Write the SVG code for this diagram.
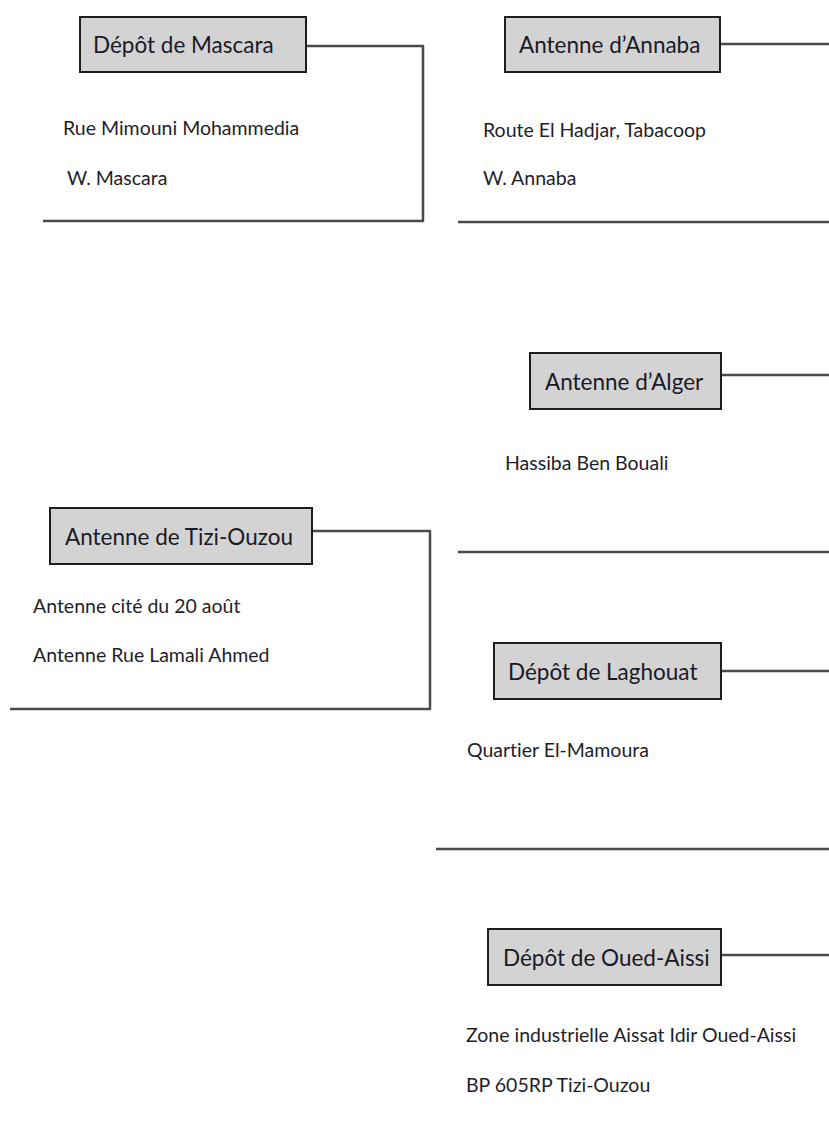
<svg xmlns="http://www.w3.org/2000/svg" width="829" height="1127" viewBox="0 0 829 1127">
  <style>
    .box { fill: #d3d3d3; stroke: #1e1e1e; stroke-width: 2; }
    text { font-family: Lato, "Open Sans", sans-serif; font-variant-ligatures: none; }
    .title { font-size: 22.5px; fill: #1a1a26; }
    .addr { font-size: 19.5px; fill: #1e1e2a; }
    .link { fill: none; stroke: #4a4a4a; stroke-width: 2.5; stroke-linejoin: round; }
  </style>
  <rect width="829" height="1127" fill="#ffffff"/>

  <g id="connectors">
    <polyline class="link" points="306,46 423,46 423,221 43,221"/>
    <polyline class="link" points="720,44 829,44"/>
    <polyline class="link" points="458,222 829,222"/>
    <polyline class="link" points="721,375 829,375"/>
    <polyline class="link" points="458,552 829,552"/>
    <polyline class="link" points="312,531 430,531 430,709 10,709"/>
    <polyline class="link" points="721,671 829,671"/>
    <polyline class="link" points="436,849 829,849"/>
    <polyline class="link" points="721,955 829,955"/>
  </g>

  <g id="depot-mascara">
    <rect class="box" x="80" y="17" width="226" height="55"/>
    <text class="title" x="93" y="53">Dépôt de Mascara</text>
    <text class="addr" x="63" y="135">Rue Mimouni Mohammedia</text>
    <text class="addr" x="67" y="185">W. Mascara</text>
  </g>

  <g id="antenne-annaba">
    <rect class="box" x="505" y="17" width="215" height="55"/>
    <text class="title" x="519" y="53">Antenne d’Annaba</text>
    <text class="addr" x="483" y="137">Route El Hadjar, Tabacoop</text>
    <text class="addr" x="483" y="185">W. Annaba</text>
  </g>

  <g id="antenne-alger">
    <rect class="box" x="530" y="353" width="191" height="56"/>
    <text class="title" x="545" y="390">Antenne d’Alger</text>
    <text class="addr" x="505" y="470">Hassiba Ben Bouali</text>
  </g>

  <g id="antenne-tizi-ouzou">
    <rect class="box" x="50" y="508" width="262" height="56"/>
    <text class="title" x="65" y="545">Antenne de Tizi-Ouzou</text>
    <text class="addr" x="33" y="613">Antenne cité du 20 août</text>
    <text class="addr" x="33" y="662">Antenne Rue Lamali Ahmed</text>
  </g>

  <g id="depot-laghouat">
    <rect class="box" x="494" y="643" width="227" height="56"/>
    <text class="title" x="508" y="680">Dépôt de Laghouat</text>
    <text class="addr" x="467" y="757">Quartier El-Mamoura</text>
  </g>

  <g id="depot-oued-aissi">
    <rect class="box" x="488" y="929" width="233" height="56"/>
    <text class="title" x="503" y="966">Dépôt de Oued-Aissi</text>
    <text class="addr" x="466" y="1042">Zone industrielle Aissat Idir Oued-Aissi</text>
    <text class="addr" x="466" y="1092">BP 605RP Tizi-Ouzou</text>
  </g>
</svg>
